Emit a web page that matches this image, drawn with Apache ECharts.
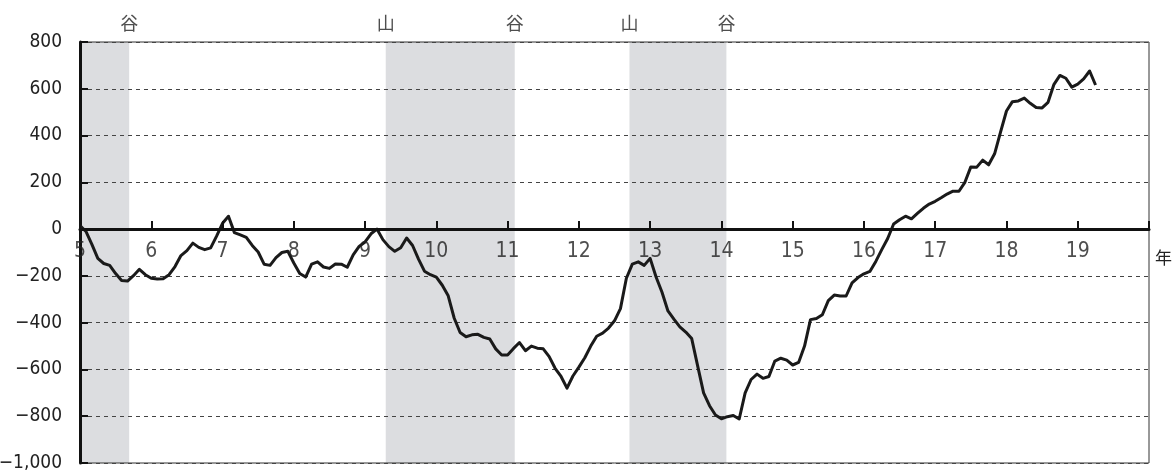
<!DOCTYPE html>
<html>
<head>
<meta charset="utf-8">
<script src="https://cdn.jsdelivr.net/npm/echarts@6/dist/echarts.min.js"></script>
<style>
html,body{margin:0;padding:0;background:#fff;}
#chart{width:1173px;height:472px;}
</style>
</head>
<body>
<div id="chart"></div>
<script>
// Monthly values starting at year 5, January
const startYear = 5;
const values = [
  15, -10, -65, -125, -147, -155, -190, -220, -222, -199, -172, -195,
  -210, -213, -212, -195, -160, -113, -92, -60, -78, -88, -80, -30,
  25, 55, -15, -25, -35, -70, -98, -150, -155, -122, -100, -95,
  -145, -190, -205, -150, -140, -162, -168, -149, -150, -163, -110, -74,
  -55, -20, 0, -45, -75, -95, -80, -38, -70, -128, -180, -195,
  -205, -240, -285, -380, -442, -460, -452, -450, -463, -470, -512, -538,
  -538, -510, -485, -520, -500, -509, -512, -545, -595, -630, -680, -628,
  -590, -550, -500, -458, -445, -423, -392, -340, -210, -150, -140, -155,
  -125, -205, -270, -350, -385, -418, -440, -468, -585, -700, -755, -795,
  -811, -802, -797, -812, -700, -643, -620, -638, -630, -564, -552, -560,
  -581, -570, -500, -387, -382, -366, -306, -282, -286, -286, -230, -207,
  -191, -181, -138, -88, -40, 22, 40, 55, 44, 67, 89, 107,
  119, 134, 150, 162, 162, 200, 266, 265, 295, 275, 322, 415,
  505, 545, 548, 560, 538, 520, 518, 542, 619, 657, 645, 607,
  620, 642, 676, 616
];
// Recession bands (year positions) and turning point labels
const recessionBands = [[5.0, 5.69], [9.29, 11.1], [12.71, 14.07]];
const turningDates = [5.69, 9.29, 11.1, 12.71, 14.07];
const turningLabels = ['谷', '山', '谷', '山', '谷'];
const xTicks = [5, 6, 7, 8, 9, 10, 11, 12, 13, 14, 15, 16, 17, 18, 19];
const xTickLabels = ['5','6','7','8','9','10','11','12','13','14','15','16','17','18','19'];
const yTicks = [800, 600, 400, 200, 0, -200, -400, -600, -800, -1000];
const yMax = 800, yMin = -1000;

const FONT = "'Liberation Sans Narrow', 'DejaVu Sans Condensed', 'Liberation Sans', sans-serif";
const CJK = "'Noto Sans CJK JP', sans-serif";
const seriesData = values.map((v, i) => [startYear + i / 12, v]);

const chart = echarts.init(document.getElementById('chart'), null, {renderer: 'canvas'});
chart.setOption({
  animation: false,
  backgroundColor: '#fff',
  grid: {left: 80, right: 24, top: 42, bottom: 9, containLabel: false, outerBoundsMode: 'none',
         show: true, borderColor: '#333', borderWidth: 1, backgroundColor: 'transparent'},
  xAxis: {
    type: 'value', min: 5, max: 20, interval: 1, z: 4,
    name: '年', nameLocation: 'end', nameGap: 6,
    nameTextStyle: {color: '#222', fontSize: 17, fontFamily: CJK, verticalAlign: 'top', padding: [20, 0, 0, 0]},
    axisLine: {onZero: true, lineStyle: {color: '#111', width: 3}},
    axisTick: {inside: true, length: 8, lineStyle: {color: '#111', width: 2}},
    axisLabel: {show: false},
    splitLine: {show: false}
  },
  yAxis: {
    type: 'value', min: yMin, max: yMax, interval: 200,
    axisLine: {show: true, lineStyle: {color: '#111', width: 3}},
    axisTick: {show: true, inside: true, length: 8, lineStyle: {color: '#111', width: 2}},
    axisLabel: {
      color: '#222', fontSize: 19, fontFamily: FONT, margin: 18,
      formatter: v => {
        if (yTicks.indexOf(v) < 0) return '';
        const a = Math.abs(v);
        const s = a >= 1000 ? a.toLocaleString('en-US') : String(a);
        return (v < 0 ? '\u2212' : '') + s;
      }
    },
    splitLine: {show: true, lineStyle: {color: '#444', width: 1, type: [4, 4]}}
  },
  series: [
    {
      type: 'line', data: [], silent: true,
      markArea: {
        silent: true, z: -1,
        itemStyle: {color: '#dcdde0'},
        data: recessionBands.map(b => [{xAxis: b[0]}, {xAxis: b[1]}])
      }
    },
    {
      type: 'line', data: seriesData, showSymbol: false, symbol: 'none',
      lineStyle: {color: '#1a1a1a', width: 3, join: 'round'},
      z: 3
    },
    {
      // year tick labels sitting below the zero line
      type: 'scatter', silent: true, symbolSize: 0, z: 5,
      data: xTicks.map(t => [t, 0]),
      label: {
        show: true, position: 'bottom', distance: 12,
        color: '#222', fontSize: 21, fontFamily: FONT,
        formatter: p => xTickLabels[p.dataIndex]
      }
    },
    {
      // business cycle turning points above the plot
      type: 'scatter', silent: true, symbolSize: 0, z: 5,
      data: turningDates.map(d => [d, yMax]),
      label: {
        show: true, position: 'top', distance: 10,
        color: '#222', fontSize: 18, fontFamily: CJK,
        formatter: p => turningLabels[p.dataIndex]
      }
    }
  ]
});
</script>
</body>
</html>
